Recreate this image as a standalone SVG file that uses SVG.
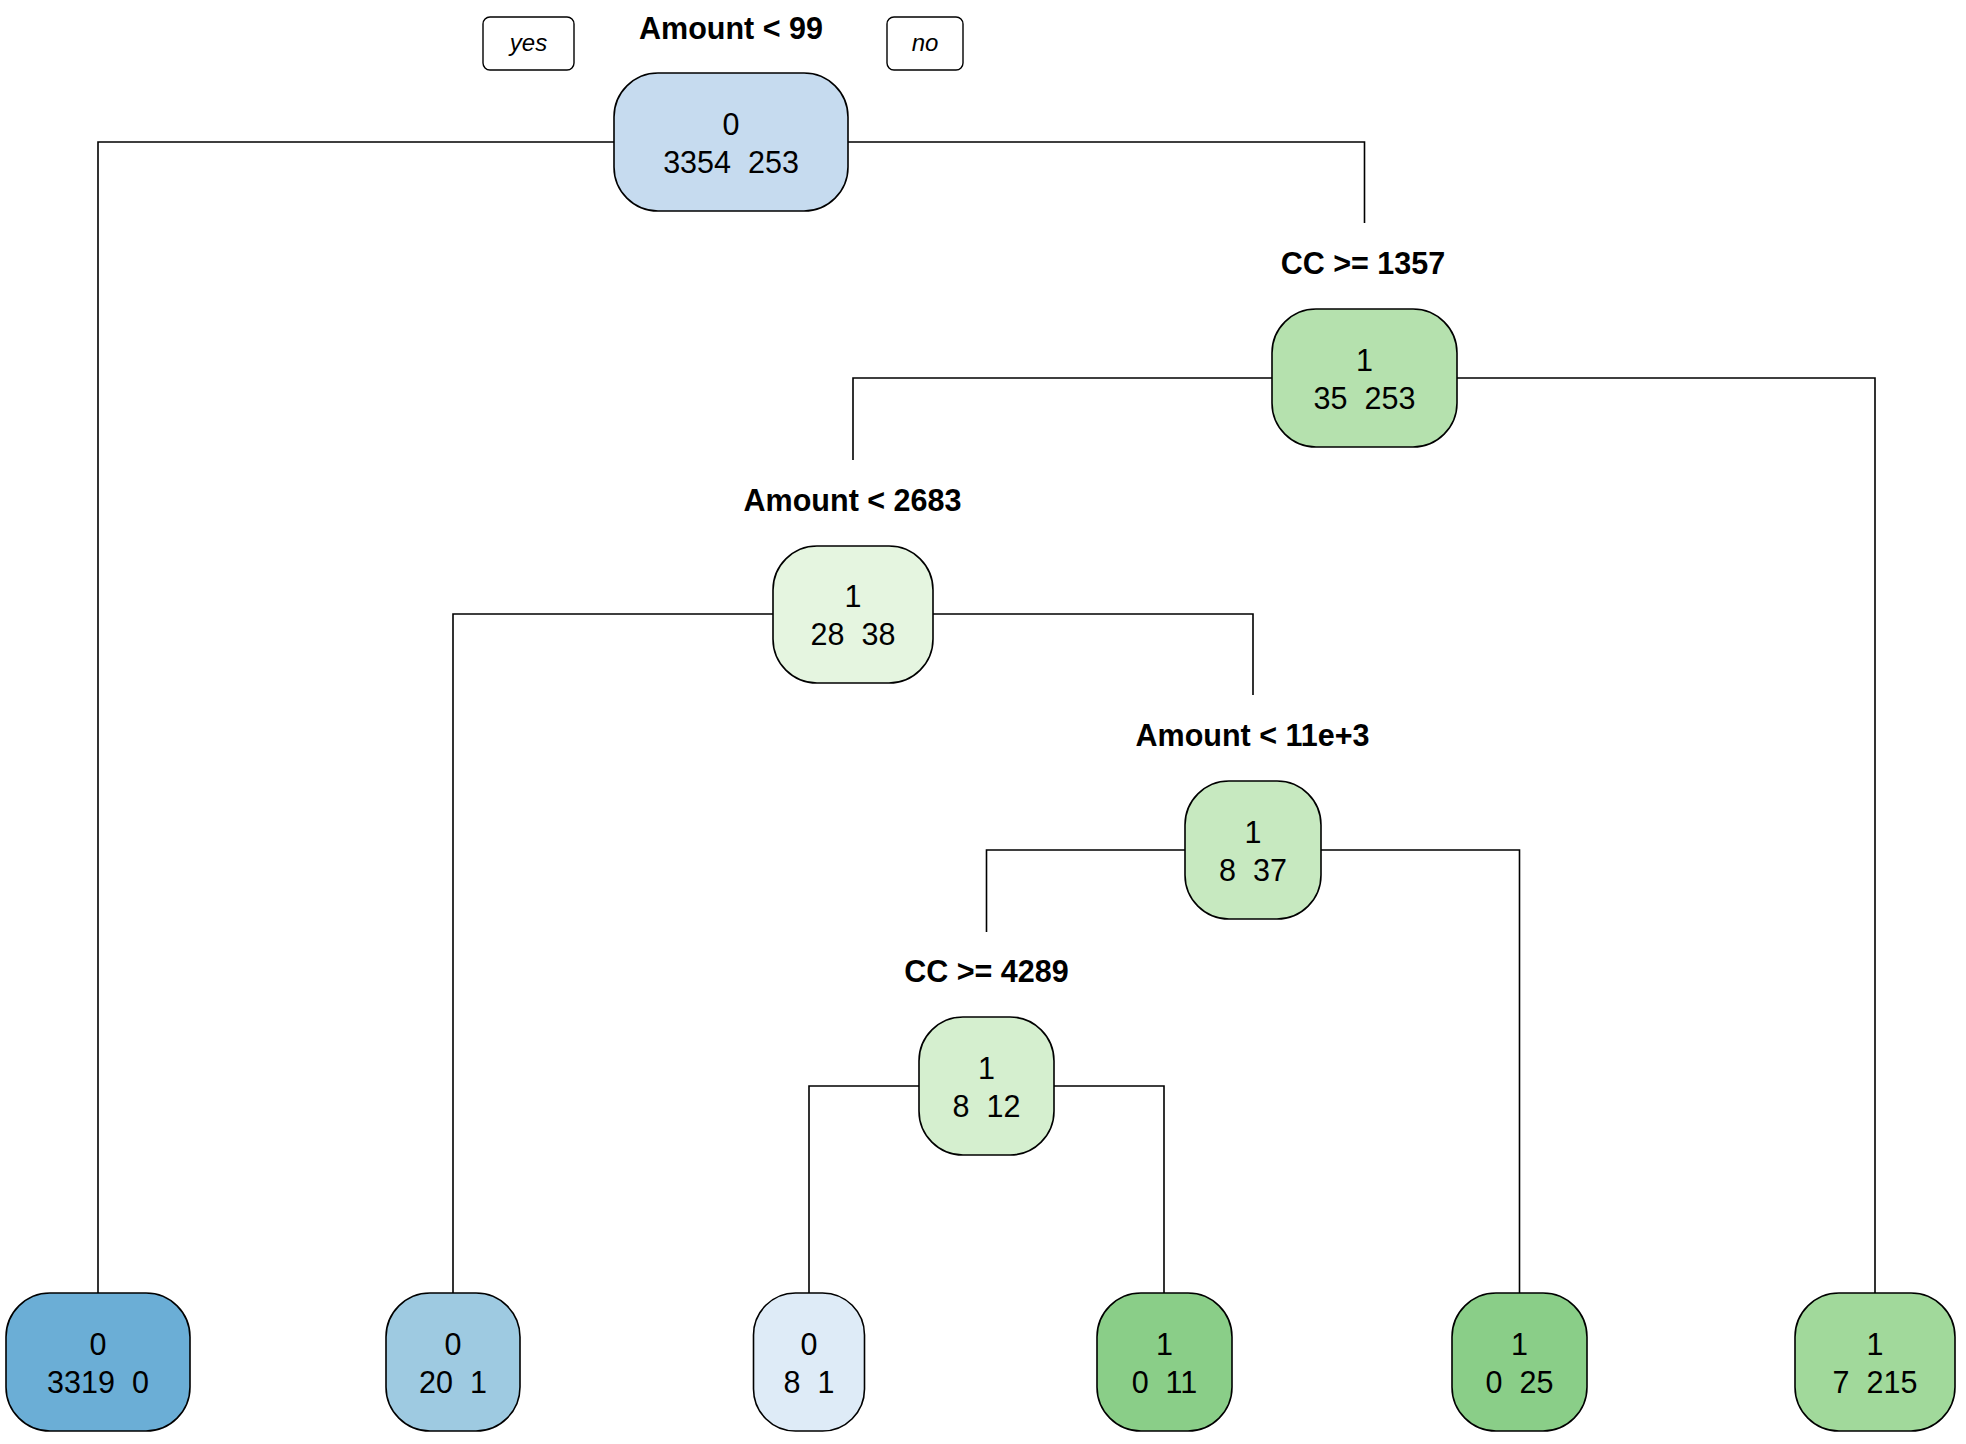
<svg xmlns="http://www.w3.org/2000/svg" width="1966" height="1444" viewBox="0 0 1966 1444" xml:space="preserve">
<style>
.bg{fill:#ffffff}
.box{stroke:#000;stroke-width:1.6}
.lbl{font-family:"Liberation Sans",Arial,sans-serif;font-weight:bold;font-size:30.5px;fill:#000;text-anchor:middle}
.txt{font-family:"Liberation Sans",Arial,sans-serif;font-size:30.5px;fill:#000;text-anchor:middle;white-space:pre}
.yn{font-family:"Liberation Sans",Arial,sans-serif;font-style:italic;font-size:24px;fill:#000;text-anchor:middle}
.ynbox{fill:#fff;stroke:#000;stroke-width:1.4}
.conn{fill:none;stroke:#000;stroke-width:1.6}
</style>
<rect class="bg" x="0" y="0" width="1966" height="1444"/>
<g id="connectors">
<path class="conn" d="M614,142 H98 V1293"/>
<path class="conn" d="M848,142 H1364.5 V223"/>
<path class="conn" d="M1272,378 H853 V460"/>
<path class="conn" d="M1457,378 H1875 V1293"/>
<path class="conn" d="M773,614 H453 V1293"/>
<path class="conn" d="M933,614 H1253 V695"/>
<path class="conn" d="M1185,850 H986.5 V932"/>
<path class="conn" d="M1321,850 H1519.5 V1293"/>
<path class="conn" d="M919,1086 H809 V1293"/>
<path class="conn" d="M1054,1086 H1164 V1293"/>
</g>
<g id="yes-label">
<rect class="ynbox" x="483" y="17" width="91" height="53" rx="7"/>
<text class="yn" x="528.5" y="51">yes</text>
</g>
<g id="no-label">
<rect class="ynbox" x="887" y="17" width="76" height="53" rx="7"/>
<text class="yn" x="925" y="51">no</text>
</g>
<g id="node-root">
<text class="lbl" x="731" y="39">Amount &lt; 99</text>
<rect class="box" x="614" y="73" width="234" height="138" rx="44" fill="#C6DBEF"/>
<text class="txt" x="731" y="135">0</text>
<text class="txt" x="731" y="173">3354  253</text>
</g>
<g id="node-cc1357">
<text class="lbl" x="1363" y="274">CC &gt;= 1357</text>
<rect class="box" x="1272" y="309" width="185" height="138" rx="44" fill="#B5E1AE"/>
<text class="txt" x="1364.5" y="371">1</text>
<text class="txt" x="1364.5" y="409">35  253</text>
</g>
<g id="node-amount2683">
<text class="lbl" x="852.5" y="511">Amount &lt; 2683</text>
<rect class="box" x="773" y="546" width="160" height="137" rx="44" fill="#E5F5E0"/>
<text class="txt" x="853" y="607">1</text>
<text class="txt" x="853" y="645">28  38</text>
</g>
<g id="node-amount11e3">
<text class="lbl" x="1252.5" y="746">Amount &lt; 11e+3</text>
<rect class="box" x="1185" y="781" width="136" height="138" rx="44" fill="#C7E9C0"/>
<text class="txt" x="1253" y="843">1</text>
<text class="txt" x="1253" y="881">8  37</text>
</g>
<g id="node-cc4289">
<text class="lbl" x="986.5" y="982">CC &gt;= 4289</text>
<rect class="box" x="919" y="1017" width="135" height="138" rx="44" fill="#D5EFCF"/>
<text class="txt" x="986.5" y="1079">1</text>
<text class="txt" x="986.5" y="1117">8  12</text>
</g>
<g id="leaf-1">
<rect class="box" x="6" y="1293" width="184" height="138" rx="44" fill="#6BAED6"/>
<text class="txt" x="98" y="1355">0</text>
<text class="txt" x="98" y="1393">3319  0</text>
</g>
<g id="leaf-2">
<rect class="box" x="386" y="1293" width="134" height="138" rx="44" fill="#9ECAE1"/>
<text class="txt" x="453" y="1355">0</text>
<text class="txt" x="453" y="1393">20  1</text>
</g>
<g id="leaf-3">
<rect class="box" x="753.5" y="1293" width="111" height="138" rx="42" fill="#DEEBF7"/>
<text class="txt" x="809" y="1355">0</text>
<text class="txt" x="809" y="1393">8  1</text>
</g>
<g id="leaf-4">
<rect class="box" x="1097" y="1293" width="135" height="138" rx="44" fill="#8ACE88"/>
<text class="txt" x="1164.5" y="1355">1</text>
<text class="txt" x="1164.5" y="1393">0  11</text>
</g>
<g id="leaf-5">
<rect class="box" x="1452" y="1293" width="135" height="138" rx="44" fill="#8ACE88"/>
<text class="txt" x="1519.5" y="1355">1</text>
<text class="txt" x="1519.5" y="1393">0  25</text>
</g>
<g id="leaf-6">
<rect class="box" x="1795" y="1293" width="160" height="138" rx="44" fill="#A1D99B"/>
<text class="txt" x="1875" y="1355">1</text>
<text class="txt" x="1875" y="1393">7  215</text>
</g>
</svg>
